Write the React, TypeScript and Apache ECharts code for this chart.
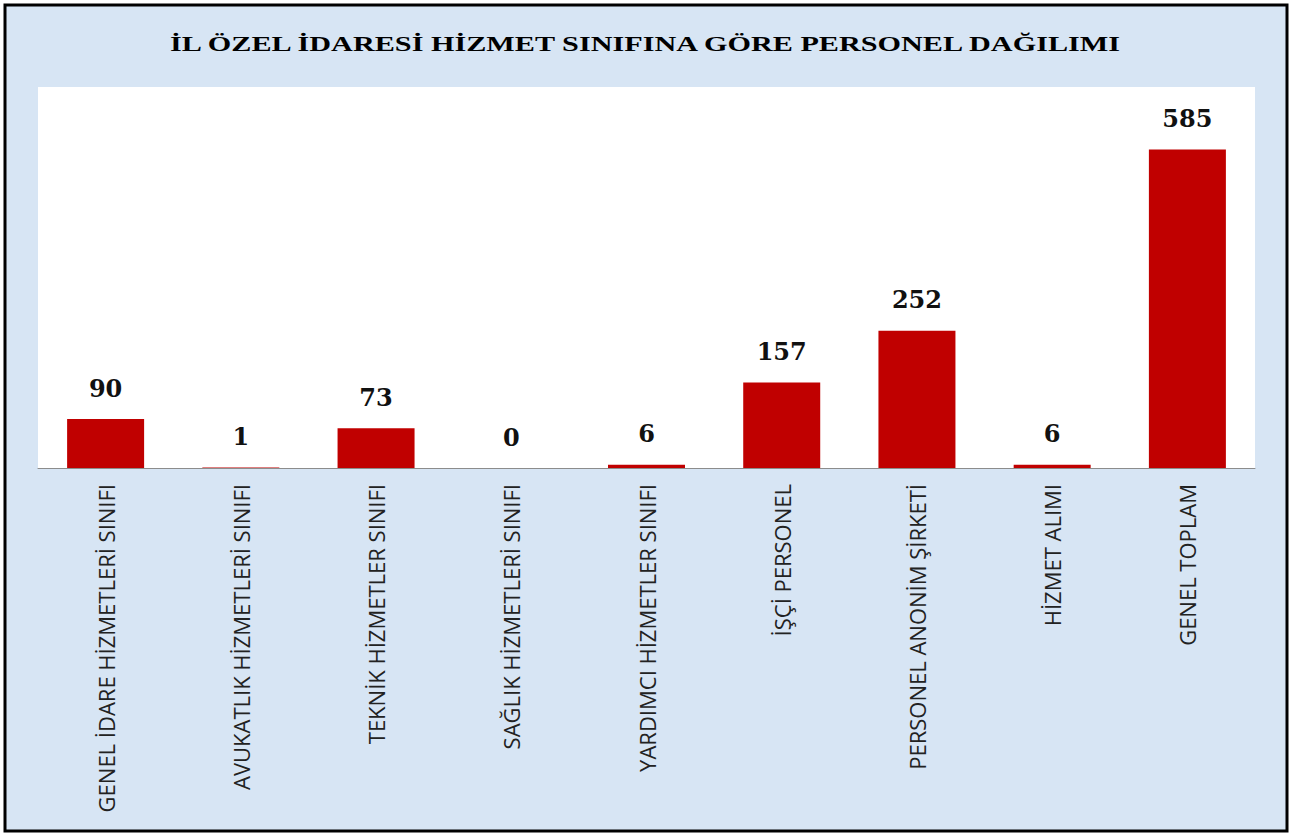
import React, { useEffect, useRef } from "react";
import * as echarts from "echarts";

const titleText = "İL ÖZEL İDARESİ HİZMET SINIFINA GÖRE PERSONEL DAĞILIMI";
const categories = [
  "GENEL İDARE HİZMETLERİ SINIFI",
  "AVUKATLIK HİZMETLERİ SINIFI",
  "TEKNİK HİZMETLER SINIFI",
  "SAĞLIK HİZMETLERİ SINIFI",
  "YARDIMCI HİZMETLER SINIFI",
  "İŞÇİ PERSONEL",
  "PERSONEL ANONİM ŞİRKETİ",
  "HİZMET ALIMI",
  "GENEL TOPLAM",
];
const values = [90, 1, 73, 0, 6, 157, 252, 6, 585];

export default function App() {
  const ref = useRef<HTMLDivElement>(null);
  useEffect(() => {
    if (!ref.current) return;
    const chart = echarts.init(ref.current, null, { renderer: "svg" });
    chart.setOption({
      animation: false,
      backgroundColor: "#ffffff",
      graphic: {
        elements: [
          {
            type: "rect",
            z: -10,
            shape: { x: 5, y: 5, width: 1282, height: 826 },
            style: { fill: "#d7e5f4", stroke: "#000", lineWidth: 3 },
          },
          {
            type: "text",
            z: 10,
            x: 645,
            y: 44,
            scaleX: 1.51,
            style: {
              text: titleText,
              font: "bold 20px 'Liberation Serif'",
              fill: "#000",
              align: "center",
              verticalAlign: "middle",
            },
          },
        ],
      },
      grid: {
        left: 38,
        top: 87,
        width: 1217,
        height: 381,
        show: true,
        backgroundColor: "#ffffff",
        borderWidth: 0,
      },
      xAxis: {
        type: "category",
        data: categories,
        axisLine: { show: true, lineStyle: { color: "#8c8c8c", width: 1 } },
        axisTick: { show: false },
        axisLabel: {
          interval: 0,
          rotate: 90,
          margin: 16,
          color: "#222",
          fontFamily: "'Open Sans'",
          fontSize: 22,
        },
      },
      yAxis: {
        type: "value",
        min: 0,
        max: 700,
        show: false,
        splitLine: { show: false },
      },
      series: [
        {
          type: "bar",
          data: values,
          barWidth: 77,
          itemStyle: { color: "#c00000" },
          label: {
            show: true,
            position: "top",
            distance: 19,
            fontFamily: "'DejaVu Serif'",
            fontWeight: "bold",
            fontSize: 24,
            color: "#111",
          },
        },
      ],
    });
    return () => chart.dispose();
  }, []);
  return (
    <div
      ref={ref}
      style={{ position: "fixed", left: 0, top: 0, width: 1302, height: 836 }}
    />
  );
}
